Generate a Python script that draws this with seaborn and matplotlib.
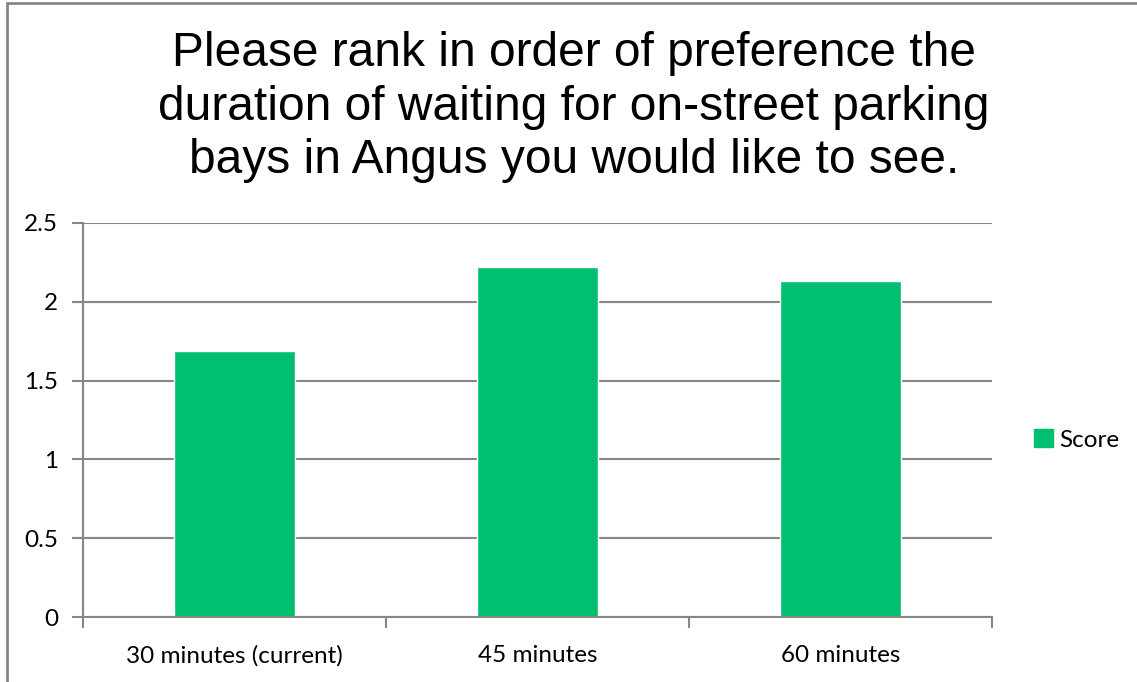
import pandas as pd
import matplotlib.pyplot as plt
import seaborn as sns
from matplotlib.patches import Rectangle, Patch

# Datos
categorias = ['30 minutes (current)', '45 minutes', '60 minutes']
puntuacion = [1.69, 2.22, 2.13]
titulo = 'Please rank in order of preference the\nduration of waiting for on-street parking\nbays in Angus you would like to see.'

df = pd.DataFrame({'Duracion': categorias, 'Score': puntuacion})

sns.set_style('white')
plt.rcParams['font.family'] = ['Lato', 'DejaVu Sans']
plt.rcParams['text.color'] = 'black'
plt.rcParams['xtick.color'] = 'black'
plt.rcParams['ytick.color'] = 'black'

verde = '#00BF6F'
gris = '#868686'

fig = plt.figure(figsize=(11.37, 6.82), dpi=100)
ax = fig.add_axes([83 / 1137, 1 - 617 / 682, (992 - 83) / 1137, (617 - 223) / 682])

sns.barplot(data=df, x='Duracion', y='Score', color=verde, width=0.4,
            saturation=1, ax=ax)

ax.set_ylim(0, 2.5)
ax.set_xlim(-0.5, 2.5)
ax.set_yticks([0, 0.5, 1, 1.5, 2, 2.5])
ax.set_yticklabels(['0', '0.5', '1', '1.5', '2', '2.5'])
ax.yaxis.grid(True, color=gris, linewidth=1.5)
ax.set_axisbelow(True)
ax.set_xlabel('')
ax.set_ylabel('')

# ticks del eje x en los limites de categoria
ax.set_xticks([-0.5, 0.5, 1.5, 2.5])
ax.set_xticklabels([])
ax.set_xticks([0, 1, 2], minor=True)
ax.set_xticklabels(categorias, minor=True, fontsize=17.5)
ax.tick_params(axis='x', which='major', length=8, width=1.5, color=gris, bottom=True)
ax.tick_params(axis='x', which='minor', length=0, pad=20)
ax.tick_params(axis='y', length=8, width=1.5, color=gris, left=True, labelsize=17.5, pad=10)

for lado in ['top', 'right']:
    ax.spines[lado].set_visible(False)
for lado in ['left', 'bottom']:
    ax.spines[lado].set_color(gris)
    ax.spines[lado].set_linewidth(1.5)

fig.text(0.505, 1 - 107 / 682, titulo, ha='center', va='center', fontsize=34.5,
         family=['Liberation Sans', 'DejaVu Sans'], linespacing=1.23)

ax.legend(handles=[Patch(color=verde, label='Score')], loc='center left',
          bbox_to_anchor=(1.022, 0.45), frameon=False, fontsize=17.5,
          handlelength=0.8, handleheight=0.8, handletextpad=0.25)

# borde del grafico
fig.patches.append(Rectangle((7 / 1137, -0.1), 1.2, 1 - 3 / 682 + 0.1,
                             transform=fig.transFigure, fill=False,
                             edgecolor=gris, linewidth=2))

fig.savefig('out.png', dpi=100)
